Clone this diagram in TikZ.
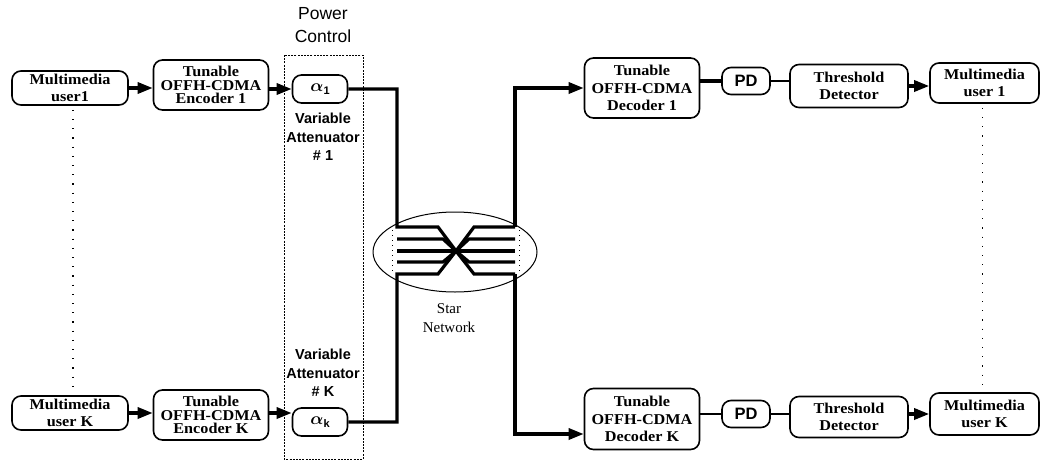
\documentclass[tikz,border=0pt]{standalone}
\usepackage{fontspec}
\usepackage{bm}
\setmainfont{Liberation Serif}
\newfontfamily\serB[FakeStretch=1.08]{Liberation Serif}
\newfontfamily\sanf{Liberation Sans}
\usetikzlibrary{arrows.meta,shapes.geometric}
\tikzset{
  box/.style={draw, line width=1.6pt, rounded corners=9pt, inner sep=0pt, align=center},
  sbox/.style={box, font=\serB\bfseries\fontsize{15}{16.5}\selectfont},
  ebox/.style={box, font=\serB\bfseries\fontsize{15}{13.8}\selectfont},
  dbox/.style={box, font=\serB\bfseries\fontsize{15}{17.5}\selectfont},
  abox/.style={box, minimum width=55pt, minimum height=28pt, font=\fontsize{18}{18}\selectfont},
  pdbox/.style={box, minimum width=48pt, minimum height=27pt, font=\sanf\bfseries\fontsize{16.5}{16.5}\selectfont},
  conn/.style={line width=3.2pt},
  thin conn/.style={line width=1.5pt},
  arr/.style={conn, -{Triangle[length=15pt,width=11pt]}},
  dotline/.style={line width=1.2pt, dash pattern=on 1.2pt off 8pt},
  lbl/.style={align=center, inner sep=0pt}
}
\newcommand{\alp}[1]{$\bm{\alpha}$\raisebox{-3pt}{\sanf\bfseries\fontsize{11}{11}\selectfont #1}}
\begin{document}
\begin{tikzpicture}[x=1pt,y=-1pt]
\useasboundingbox (0,0) rectangle (1041,461);

% power control dashed box
\draw[line width=0.9pt, dash pattern=on 2pt off 1.2pt] (284,55) rectangle (363,459);
\node[lbl, font=\sanf\fontsize{17.5}{23}\selectfont] (pc) at (323,25) {Power\\Control};

% left column
\node[sbox, minimum width=116pt, minimum height=34pt] (u1) at (70,88) {Multimedia\\user1};
\node[ebox, minimum width=115pt, minimum height=50pt] (e1) at (211,85) {Tunable\\OFFH-CDMA\\Encoder 1};
\node[abox] (a1) at (320,89) {\alp{1}};
\node[lbl, font=\sanf\bfseries\fontsize{14.5}{18.5}\selectfont] (v1) at (323,137) {Variable\\Attenuator\\\# 1};

\node[sbox, minimum width=116pt, minimum height=34pt] (uK) at (70,413) {Multimedia\\user K};
\node[ebox, minimum width=115pt, minimum height=50pt] (eK) at (211,415) {Tunable\\OFFH-CDMA\\Encoder K};
\node[abox] (aK) at (320,422) {\alp{k}};
\node[lbl, font=\sanf\bfseries\fontsize{14.5}{18.5}\selectfont] (vK) at (323,373) {Variable\\Attenuator\\\# K};

\draw[arr] (u1.east) -- (e1.west |- u1.east);
\draw[arr] (e1.east |- a1.west) -- (a1.west);
\draw[arr] (uK.east) -- (eK.west |- uK.east);
\draw[arr] (eK.east |- uK.east) -- (aK.west |- uK.east);

\draw[dotline] (u1.south) ++(3,4) coordinate (d1a) -- (uK.north -| d1a);

% star network
\node[draw, line width=1pt, ellipse, minimum width=164pt, minimum height=80pt, inner sep=0pt] (star) at (455,252) {};
\node[lbl, font=\fontsize{15}{19}\selectfont] (sn) at (449,318) {Star\\Network};
\coordinate (c) at (456,251);
\coordinate (L1) at (397,227);
\coordinate (L5) at (397,274);
\coordinate (R1) at (515,227);
\coordinate (R5) at (515,274);

\draw[conn, line join=miter] (a1.east) -| (L1) -- (438,227) -- (c) -- (474,227) -- (R1);
\draw[conn, line join=miter] (aK.east) -| (L5) -- (438,274) -- (c) -- (474,274) -- (R5);
\draw[conn] (397,239) -- (443,239) -- (c) -- (469,239) -- (515,239);
\draw[conn] (397,251) -- (515,251);
\draw[conn] (397,262) -- (443,262) -- (c) -- (469,262) -- (515,262);
\draw[line width=1pt, dash pattern=on 1pt off 4pt] (392,230) -- (392,273);
\draw[line width=1pt, dash pattern=on 1pt off 4pt] (519,230) -- (519,273);

% right column
\node[dbox, minimum width=115pt, minimum height=60pt] (d1) at (642,88) {Tunable\\OFFH-CDMA\\Decoder 1};
\node[pdbox] (p1) at (746,81) {PD};
\node[dbox, minimum width=118pt, minimum height=43pt, font=\serB\bfseries\fontsize{15}{16.5}\selectfont] (t1) at (849,86) {Threshold\\Detector};
\node[sbox, minimum width=109pt, minimum height=40pt] (r1) at (984.5,83) {Multimedia\\user 1};

\node[dbox, minimum width=115pt, minimum height=61pt] (dK) at (642,419) {Tunable\\OFFH-CDMA\\Decoder K};
\node[pdbox] (pK) at (746,414) {PD};
\node[dbox, minimum width=118pt, minimum height=41pt, font=\serB\bfseries\fontsize{15}{16.5}\selectfont] (tK) at (849,417) {Threshold\\Detector};
\node[sbox, minimum width=109pt, minimum height=42pt] (rK) at (984.5,414) {Multimedia\\user K};

\draw[arr] (R1) -- (R1 |- d1.west) -- (d1.west);
\draw[arr] (R5) -- (515,434) -- (dK.west |- 0,434);
\draw[conn] (d1.east |- p1.west) -- (p1.west);
\draw[thin conn] (p1.east) -- (t1.west |- p1.east);
\draw[arr] (t1.east) -- (r1.west |- t1.east);
\draw[thin conn] (dK.east |- pK.west) -- (pK.west);
\draw[thin conn] (pK.east) -- (tK.west |- pK.east);
\draw[arr] (tK.east |- rK.west) -- (rK.west);

\draw[dotline] (r1.south) ++(-2,4) coordinate (d2a) -- (rK.north -| d2a);
\end{tikzpicture}
\end{document}
